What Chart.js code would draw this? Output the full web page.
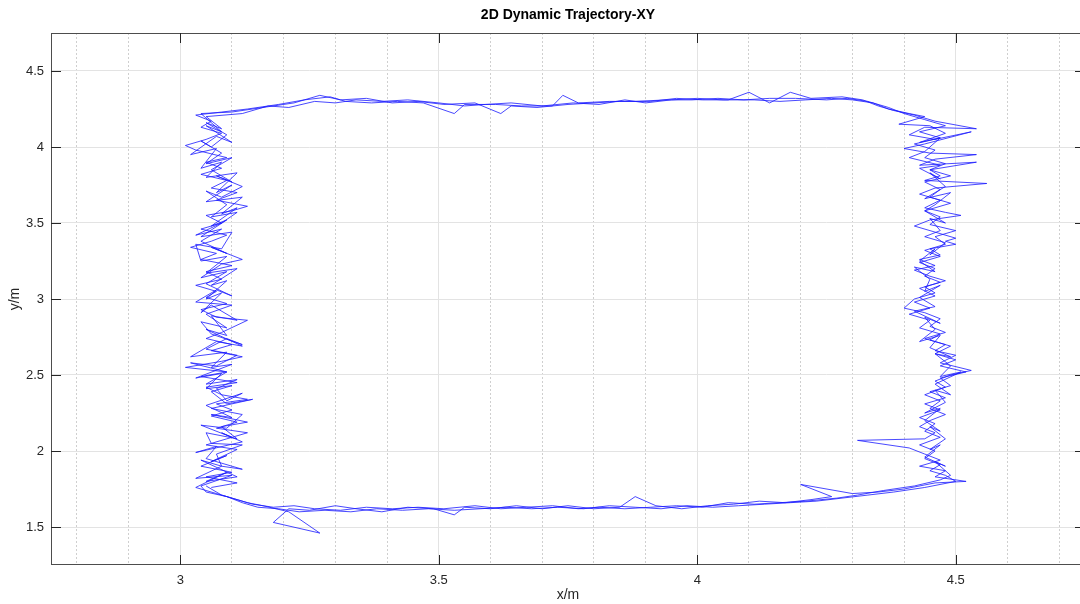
<!DOCTYPE html>
<html>
<head>
<meta charset="utf-8">
<script src="https://cdn.jsdelivr.net/npm/chart.js@4.4.1/dist/chart.umd.min.js"></script>
<style>
    html, body { margin: 0; padding: 0; background: #fff; overflow: hidden; }
    #wrap { width: 1086px; height: 604px; }
</style>
</head>
<body>
<div id="wrap"><canvas id="trajChart" width="1086" height="604"></canvas></div>
<script>
// axis ranges and ticks
const xRange = [2.75, 4.75];
const yRange = [1.25, 4.75];
const xTickVals = [3, 3.5, 4, 4.5];
const yTickVals = [1.5, 2, 2.5, 3, 3.5, 4, 4.5];
const xMinorVals = [2.8, 2.9, 3.1, 3.2, 3.3, 3.4, 3.6, 3.7, 3.8, 3.9, 4.1, 4.2, 4.3, 4.4, 4.6, 4.7];

// trajectory: [x, y]
const lap1Left = [[3.06,1.76],[3.11,1.79],[3.05,1.83],[3.10,1.86],[3.04,1.90],[3.09,1.97],[3.06,1.93],[3.11,2.01],[3.05,2.04],[3.09,2.08],[3.13,2.12],[3.07,2.15],[3.11,2.19],[3.06,2.23],[3.10,2.27],[3.07,2.31],[3.13,2.34],[3.08,2.37],[3.05,2.42],[3.11,2.45],[3.04,2.49],[3.09,2.52],[3.01,2.55],[3.08,2.59],[3.12,2.62],[3.06,2.66],[3.10,2.70],[3.05,2.74],[3.08,2.78],[3.13,2.86],[3.07,2.88],[3.04,2.93],[3.09,2.97],[3.05,3.01],[3.07,3.05],[3.03,3.09],[3.08,3.13],[3.05,3.18],[3.10,3.22],[3.04,3.26],[3.07,3.30],[3.02,3.34],[3.06,3.38],[3.09,3.42],[3.04,3.46],[3.08,3.50],[3.05,3.55],[3.10,3.58],[3.13,3.61],[3.07,3.65],[3.11,3.70],[3.06,3.73],[3.09,3.78],[3.04,3.82],[3.08,3.86],[3.05,3.90],[3.09,3.93],[3.03,3.98],[3.01,4.01],[3.05,4.05],[3.08,4.09],[3.04,4.13],[3.06,4.17],[3.03,4.21],[3.08,4.23]];
const lap1Top = [[3.13,4.25],[3.19,4.28],[3.24,4.31],[3.29,4.33],[3.32,4.30],[3.37,4.29],[3.42,4.30],[3.47,4.29],[3.53,4.22],[3.55,4.28],[3.61,4.28],[3.66,4.27],[3.72,4.27],[3.74,4.34],[3.77,4.29],[3.83,4.30],[3.88,4.30],[3.94,4.31],[3.99,4.31],[4.04,4.32],[4.09,4.31],[4.14,4.32],[4.19,4.32],[4.25,4.31],[4.29,4.32],[4.33,4.30],[4.37,4.26],[4.40,4.22],[4.44,4.18],[4.48,4.14]];
const lap1Right = [[4.43,4.10],[4.47,4.06],[4.42,4.02],[4.46,3.98],[4.44,3.93],[4.48,3.89],[4.45,3.85],[4.49,3.81],[4.44,3.77],[4.47,3.72],[4.45,3.67],[4.49,3.63],[4.44,3.58],[4.47,3.54],[4.45,3.49],[4.50,3.45],[4.46,3.41],[4.48,3.36],[4.44,3.32],[4.47,3.28],[4.43,3.24],[4.46,3.20],[4.44,3.15],[4.47,3.11],[4.43,3.07],[4.46,3.02],[4.42,2.98],[4.45,2.94],[4.41,2.90],[4.45,2.86],[4.43,2.81],[4.47,2.77],[4.45,2.73],[4.49,2.69],[4.46,2.64],[4.50,2.60],[4.47,2.56],[4.52,2.52],[4.47,2.48],[4.49,2.43],[4.45,2.39],[4.48,2.35],[4.44,2.31],[4.47,2.27],[4.43,2.22],[4.46,2.18],[4.44,2.13],[4.47,2.09],[4.43,2.04],[4.46,2.00],[4.44,1.95],[4.47,1.91],[4.45,1.87],[4.48,1.84],[4.50,1.80]];
const lap1Bottom = [[4.44,1.76],[4.38,1.73],[4.33,1.71],[4.28,1.69],[4.23,1.67],[4.18,1.66],[4.13,1.65],[4.08,1.64],[4.03,1.63],[3.98,1.64],[3.93,1.62],[3.88,1.63],[3.83,1.64],[3.78,1.62],[3.73,1.63],[3.68,1.62],[3.63,1.63],[3.58,1.62],[3.53,1.61],[3.48,1.62],[3.43,1.61],[3.38,1.62],[3.33,1.60],[3.28,1.61],[3.23,1.60],[3.19,1.62],[3.15,1.63],[3.12,1.66],[3.09,1.70],[3.05,1.73]];

const lap2Left = [[3.04,1.77],[3.10,1.84],[3.03,1.82],[3.08,1.90],[3.12,1.88],[3.05,1.95],[3.07,2.03],[3.03,1.99],[3.12,2.06],[3.08,2.12],[3.10,2.09],[3.04,2.17],[3.09,2.15],[3.12,2.24],[3.06,2.28],[3.14,2.34],[3.09,2.31],[3.06,2.39],[3.10,2.43],[3.05,2.41],[3.08,2.51],[3.03,2.48],[3.10,2.57],[3.06,2.55],[3.09,2.65],[3.02,2.62],[3.07,2.72],[3.12,2.69],[3.05,2.80],[3.09,2.76],[3.06,2.89],[3.11,2.86],[3.06,2.96],[3.04,2.91],[3.08,3.04],[3.05,3.00],[3.09,3.12],[3.06,3.09],[3.11,3.20],[3.05,3.17],[3.09,3.28],[3.04,3.25],[3.03,3.36],[3.08,3.33],[3.10,3.44],[3.04,3.41],[3.09,3.52],[3.06,3.48],[3.11,3.60],[3.08,3.56],[3.12,3.67],[3.05,3.64],[3.10,3.75],[3.07,3.70],[3.11,3.83],[3.05,3.80],[3.08,3.90],[3.04,3.86],[3.07,3.99],[3.02,3.95],[3.07,4.07],[3.10,4.03],[3.05,4.14],[3.08,4.10],[3.04,4.22]];
const lap2Top = [[3.10,4.23],[3.16,4.26],[3.22,4.29],[3.27,4.34],[3.31,4.31],[3.36,4.32],[3.41,4.29],[3.46,4.30],[3.51,4.28],[3.57,4.29],[3.62,4.22],[3.64,4.27],[3.69,4.26],[3.75,4.28],[3.80,4.29],[3.85,4.30],[3.91,4.30],[3.96,4.32],[4.01,4.31],[4.06,4.31],[4.10,4.36],[4.14,4.29],[4.18,4.36],[4.22,4.32],[4.28,4.33],[4.32,4.31],[4.35,4.27],[4.38,4.24],[4.42,4.21],[4.46,4.17],[4.54,4.12],[4.44,4.13]];
const lap2Right = [[4.41,4.08],[4.46,4.05],[4.53,4.10],[4.44,4.02],[4.40,3.99],[4.45,3.96],[4.54,3.95],[4.46,3.92],[4.43,3.88],[4.54,3.90],[4.45,3.85],[4.47,3.81],[4.44,3.78],[4.56,3.76],[4.46,3.73],[4.43,3.69],[4.47,3.65],[4.44,3.60],[4.48,3.57],[4.51,3.55],[4.45,3.52],[4.42,3.48],[4.46,3.44],[4.50,3.40],[4.48,3.38],[4.50,3.36],[4.45,3.33],[4.47,3.29],[4.43,3.26],[4.46,3.22],[4.42,3.19],[4.45,3.15],[4.48,3.12],[4.44,3.08],[4.46,3.04],[4.42,3.00],[4.40,2.94],[4.44,2.91],[4.47,2.87],[4.45,2.82],[4.48,2.78],[4.44,2.74],[4.48,2.70],[4.46,2.66],[4.50,2.63],[4.47,2.58],[4.53,2.53],[4.49,2.50],[4.46,2.46],[4.48,2.42],[4.44,2.37],[4.47,2.33],[4.45,2.28],[4.48,2.24],[4.45,2.20],[4.43,2.16],[4.46,2.12],[4.44,2.08],[4.31,2.07],[4.41,2.02],[4.44,1.98],[4.47,1.94],[4.43,1.90],[4.48,1.87],[4.46,1.83],[4.52,1.80],[4.46,1.79]];
const lap2Bottom = [[4.40,1.75],[4.35,1.73],[4.30,1.72],[4.20,1.78],[4.26,1.70],[4.22,1.68],[4.17,1.66],[4.12,1.67],[4.07,1.65],[4.02,1.64],[3.97,1.62],[3.92,1.64],[3.88,1.70],[3.85,1.63],[3.80,1.62],[3.75,1.64],[3.70,1.62],[3.65,1.64],[3.60,1.62],[3.55,1.63],[3.53,1.58],[3.49,1.62],[3.44,1.63],[3.39,1.60],[3.34,1.62],[3.30,1.64],[3.25,1.61],[3.21,1.62],[3.18,1.53],[3.27,1.46],[3.21,1.60],[3.16,1.64],[3.13,1.66],[3.10,1.69],[3.07,1.72]];

const lap3Left = [[3.03,1.76],[3.09,1.86],[3.05,1.80],[3.11,1.83],[3.04,1.94],[3.08,1.90],[3.07,1.98],[3.12,2.04],[3.06,2.05],[3.05,2.12],[3.11,2.08],[3.08,2.16],[3.13,2.19],[3.06,2.24],[3.10,2.22],[3.05,2.30],[3.12,2.38],[3.09,2.33],[3.07,2.41],[3.11,2.47],[3.05,2.44],[3.09,2.52],[3.02,2.58],[3.07,2.56],[3.11,2.63],[3.05,2.67],[3.09,2.74],[3.12,2.70],[3.06,2.77],[3.04,2.85],[3.09,2.81],[3.05,2.90],[3.10,2.96],[3.03,2.98],[3.07,3.06],[3.10,3.02],[3.05,3.10],[3.09,3.18],[3.04,3.14],[3.08,3.23],[3.12,3.26],[3.06,3.34],[3.09,3.30],[3.04,3.38],[3.08,3.46],[3.03,3.42],[3.08,3.50],[3.11,3.57],[3.06,3.54],[3.09,3.62],[3.05,3.71],[3.08,3.67],[3.12,3.74],[3.07,3.81],[3.10,3.77],[3.06,3.85],[3.10,3.93],[3.05,3.89],[3.08,3.96],[3.04,4.04],[3.06,4.00],[3.09,4.08],[3.05,4.16],[3.08,4.12],[3.05,4.20],[3.12,4.22]];
const lap3Top = [[3.17,4.27],[3.21,4.26],[3.26,4.30],[3.30,4.29],[3.34,4.31],[3.39,4.30],[3.44,4.31],[3.50,4.29],[3.55,4.27],[3.59,4.28],[3.64,4.29],[3.70,4.27],[3.76,4.29],[3.81,4.28],[3.86,4.31],[3.90,4.29],[3.95,4.31],[4.00,4.32],[4.05,4.31],[4.11,4.31],[4.16,4.30],[4.21,4.31],[4.26,4.32],[4.30,4.31],[4.34,4.29],[4.37,4.25],[4.41,4.22],[4.44,4.20],[4.39,4.15],[4.45,4.14]];
const lap3Right = [[4.48,4.09],[4.43,4.03],[4.47,4.06],[4.44,3.97],[4.41,3.93],[4.47,3.88],[4.43,3.86],[4.47,3.79],[4.45,3.83],[4.48,3.74],[4.44,3.66],[4.49,3.70],[4.46,3.62],[4.44,3.58],[4.48,3.50],[4.45,3.53],[4.47,3.45],[4.44,3.41],[4.48,3.37],[4.45,3.29],[4.46,3.33],[4.43,3.25],[4.46,3.18],[4.42,3.21],[4.45,3.13],[4.44,3.05],[4.47,3.09],[4.43,3.01],[4.46,2.95],[4.42,2.92],[4.47,2.84],[4.44,2.88],[4.46,2.80],[4.43,2.72],[4.47,2.76],[4.45,2.68],[4.49,2.62],[4.46,2.64],[4.49,2.56],[4.47,2.49],[4.51,2.52],[4.46,2.44],[4.49,2.37],[4.46,2.40],[4.48,2.32],[4.44,2.25],[4.47,2.28],[4.44,2.20],[4.47,2.13],[4.45,2.16],[4.48,2.08],[4.45,2.01],[4.47,2.04],[4.44,1.96],[4.48,1.90],[4.46,1.93],[4.49,1.84],[4.47,1.81]];
const lap3Bottom = [[4.42,1.77],[4.36,1.74],[4.31,1.71],[4.27,1.69],[4.21,1.67],[4.16,1.66],[4.11,1.65],[4.06,1.66],[4.01,1.63],[3.96,1.64],[3.91,1.63],[3.86,1.62],[3.81,1.63],[3.77,1.62],[3.72,1.64],[3.67,1.63],[3.62,1.62],[3.57,1.64],[3.51,1.62],[3.46,1.63],[3.41,1.62],[3.36,1.63],[3.31,1.61],[3.26,1.62],[3.22,1.64],[3.18,1.63],[3.14,1.65],[3.11,1.68],[3.08,1.71],[3.05,1.77]];

const legs = [lap1Left, lap1Top, lap1Right, lap1Bottom, lap2Left, lap2Top, lap2Right, lap2Bottom, lap3Left, lap3Top, lap3Right, lap3Bottom];
const trajPoints = legs.flat().map(p => ({ x: p[0], y: p[1] }));

const FONT = "'Liberation Sans', Arial, Helvetica, sans-serif";
const TXT = '#262626';

// box + inward tick marks, matlab style
const boxPlugin = {
    id: 'matlabBox',
    afterDatasetsDraw(chart) {
        const { ctx, chartArea: a, scales } = chart;
        ctx.save();
        ctx.strokeStyle = '#4d4d4d';
        ctx.lineWidth = 1;
        ctx.strokeRect(a.left + 0.5, a.top + 0.5, a.right - a.left - 1, a.bottom - a.top - 1);
        ctx.strokeStyle = TXT;
        ctx.beginPath();
        xTickVals.forEach(v => {
            const px = Math.round(scales.x.getPixelForValue(v)) + 0.5;
            ctx.moveTo(px, a.bottom); ctx.lineTo(px, a.bottom - 10);
            ctx.moveTo(px, a.top); ctx.lineTo(px, a.top + 10);
        });
        yTickVals.forEach(v => {
            const py = Math.round(scales.y.getPixelForValue(v)) + 0.5;
            ctx.moveTo(a.left, py); ctx.lineTo(a.left + 10, py);
            ctx.moveTo(a.right, py); ctx.lineTo(a.right - 10, py);
        });
        ctx.stroke();
        ctx.restore();
    }
};

new Chart(document.getElementById('trajChart').getContext('2d'), {
    type: 'scatter',
    data: {
        datasets: [{
            label: 'XY',
            data: trajPoints,
            showLine: true,
            borderColor: '#1a1aff',
            borderWidth: 0.8,
            pointRadius: 0,
            tension: 0,
            fill: false
        }]
    },
    options: {
        responsive: false,
        animation: false,
        layout: { padding: { top: 0, right: 1, bottom: 0, left: 0 } },
        plugins: {
            legend: { display: false },
            tooltip: { enabled: false },
            title: {
                display: true,
                text: '2D Dynamic Trajectory-XY',
                fullSize: false,
                color: '#000',
                font: { family: FONT, size: 14, weight: 'bold' },
                padding: { top: 7, bottom: 9.2 }
            }
        },
        scales: {
            x: {
                type: 'linear', position: 'bottom',
                min: xRange[0], max: xRange[1],
                afterBuildTicks: s => { s.ticks = xTickVals.map(v => ({ value: v })); },
                afterFit: s => { s.height = 39; },
                ticks: { color: TXT, font: { family: FONT, size: 13 }, padding: 8, maxRotation: 0, callback: v => String(v) },
                grid: { color: '#e3e3e3', drawTicks: false },
                border: { display: false },
                title: { display: true, text: 'x/m', color: TXT, font: { family: FONT, size: 14 }, padding: { top: 0, bottom: 0 } }
            },
            xMinor: {
                type: 'linear', position: 'bottom',
                min: xRange[0], max: xRange[1],
                afterBuildTicks: s => { s.ticks = xMinorVals.map(v => ({ value: v })); },
                afterFit: s => { s.height = 0; },
                ticks: { display: false },
                grid: { color: '#cfcfcf', drawTicks: false },
                border: { display: false, dash: [2, 2] }
            },
            y: {
                type: 'linear', position: 'left',
                min: yRange[0], max: yRange[1],
                afterBuildTicks: s => { s.ticks = yTickVals.map(v => ({ value: v })); },
                afterFit: s => { s.width = 51; },
                ticks: { color: TXT, font: { family: FONT, size: 13 }, padding: 7, callback: v => String(v) },
                grid: { color: '#e3e3e3', drawTicks: false },
                border: { display: false },
                title: { display: true, text: 'y/m', color: TXT, font: { family: FONT, size: 14 }, padding: { top: 7, bottom: 0 } }
            }
        }
    },
    plugins: [boxPlugin]
});
</script>
</body>
</html>
